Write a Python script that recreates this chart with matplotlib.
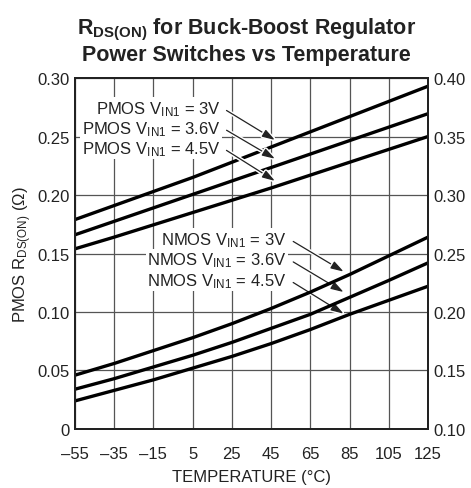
import matplotlib
matplotlib.use("Agg")
import matplotlib.pyplot as plt
import matplotlib.patheffects as pe

plt.rcParams['font.family'] = ['Liberation Sans Narrow', 'Liberation Sans', 'DejaVu Sans']
plt.rcParams['mathtext.default'] = 'regular'

# temperatures (degC)
temp = [-55, -35, -15, 5, 25, 45, 65, 85, 105, 125]

# PMOS Rds(on), left axis (ohm)
pmos_3v = [0.179, 0.191, 0.203, 0.215, 0.228, 0.241, 0.254, 0.267, 0.280, 0.293]
pmos_36v = [0.166, 0.1775, 0.189, 0.2005, 0.212, 0.2235, 0.235, 0.2465, 0.258, 0.2695]
pmos_45v = [0.154, 0.164, 0.1745, 0.185, 0.1955, 0.206, 0.217, 0.228, 0.239, 0.250]

# NMOS Rds(on), right axis (ohm)
nmos_3v = [0.146, 0.156, 0.167, 0.178, 0.190, 0.203, 0.217, 0.232, 0.248, 0.264]
nmos_36v = [0.134, 0.143, 0.153, 0.163, 0.174, 0.186, 0.198, 0.2125, 0.227, 0.242]
nmos_45v = [0.124, 0.133, 0.142, 0.152, 0.162, 0.173, 0.185, 0.198, 0.210, 0.222]

left_ticks = [0, 0.05, 0.10, 0.15, 0.20, 0.25, 0.30]
left_labels = ['0', '0.05', '0.10', '0.15', '0.20', '0.25', '0.30']
right_ticks = [0.10, 0.15, 0.20, 0.25, 0.30, 0.35, 0.40]
right_labels = ['0.10', '0.15', '0.20', '0.25', '0.30', '0.35', '0.40']
x_labels = ['\u201355', '\u201335', '\u201315', '5', '25', '45', '65', '85', '105', '125']

fig = plt.figure(figsize=(4.71, 4.89), dpi=100)
ax = fig.add_axes([0.1592, 0.1207, 0.7495, 0.7177])
ax2 = ax.twinx()

lw = 2.4
ax.plot(temp, pmos_3v, color='black', lw=lw)
ax.plot(temp, pmos_36v, color='black', lw=lw)
ax.plot(temp, pmos_45v, color='black', lw=lw)
ax2.plot(temp, nmos_3v, color='black', lw=lw)
ax2.plot(temp, nmos_36v, color='black', lw=lw)
ax2.plot(temp, nmos_45v, color='black', lw=lw)

ax.set_xlim(-55, 125)
ax.set_ylim(0, 0.30)
ax2.set_ylim(0.10, 0.40)
ax.set_xticks(temp)
ax.set_xticklabels(x_labels)
ax.set_yticks(left_ticks)
ax.set_yticklabels(left_labels)
ax2.set_yticks(right_ticks)
ax2.set_yticklabels(right_labels)

ax.grid(True, color='#555555', lw=0.9)
ax.set_axisbelow(True)
for a in (ax, ax2):
    a.tick_params(length=0, labelsize=12, colors='#222222', pad=4)
    for s in a.spines.values():
        s.set_linewidth(1.4)
        s.set_color('#222222')
ax.tick_params(axis='x', pad=12)

ax.set_xlabel('TEMPERATURE (\u00b0C)', fontsize=12, color='#222222', labelpad=6)
ax.set_ylabel('PMOS R$_{DS(ON)}$ (\u03a9)', fontsize=12, color='#222222', labelpad=2)
ax.set_title('R$_{DS(ON)}$ for Buck-Boost Regulator\nPower Switches vs Temperature',
             fontsize=15.5, fontweight='bold', color='#222222', linespacing=1.1,
             pad=13, x=0.486)

# annotations (left axis coordinates)
labels = ['PMOS V$_{IN1}$ = 3V', 'PMOS V$_{IN1}$ = 3.6V', 'PMOS V$_{IN1}$ = 4.5V',
          'NMOS V$_{IN1}$ = 3V', 'NMOS V$_{IN1}$ = 3.6V', 'NMOS V$_{IN1}$ = 4.5V']
text_xy = [(19, 0.274), (19, 0.257), (19, 0.240),
           (53, 0.162), (53, 0.1445), (53, 0.127)]
tip_xy = [(47, 0.247), (47, 0.231), (47, 0.212),
          (82, 0.1345), (82, 0.117), (82, 0.0985)]

for lab, txy, axy in zip(labels, text_xy, tip_xy):
    ax.annotate(lab, xy=axy, xytext=txy, ha='right', va='center',
                fontsize=12, color='#222222', zorder=5,
                bbox=dict(boxstyle='square,pad=0.1', fc='white', ec='none'),
                arrowprops=dict(arrowstyle='-|>,head_length=0.55,head_width=0.17',
                                color='#222222', lw=0.9,
                                mutation_scale=14, relpos=(1, 0.6),
                                shrinkA=4, shrinkB=0,
                                path_effects=[pe.withStroke(linewidth=3, foreground='white')]))

fig.savefig('out.png', dpi=100)
